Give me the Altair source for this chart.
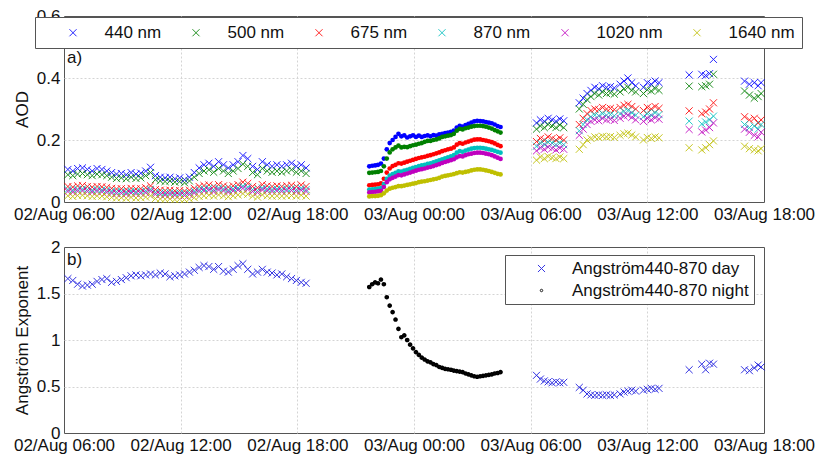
import altair as alt
import pandas as pd

FONT = "Liberation Sans"
WAVELENGTHS = ["440 nm", "500 nm", "675 nm", "870 nm", "1020 nm", "1640 nm"]
COLORS = ["#0000ff", "#008000", "#ff0000", "#00bfbf", "#bf00bf", "#bfbf00"]
XPATH = "M-1,-1L1,1M-1,1L1,-1"

# hours since 02/Aug 00:00
T_DAY = [6.2, 6.45, 6.7, 6.95, 7.2, 7.45, 7.7, 7.95, 8.2, 8.45, 8.7, 8.95, 9.2, 9.45, 9.7, 9.95,
         10.2, 10.45, 10.7, 10.95, 11.2, 11.45, 11.7, 11.95, 12.2, 12.45, 12.7, 12.95, 13.2, 13.45,
         13.7, 13.95, 14.2, 14.45, 14.7, 14.95, 15.2, 15.45, 15.7, 15.95, 16.2, 16.45, 16.7, 16.95,
         17.2, 17.45, 17.7, 17.95, 18.2, 18.45,
         30.3, 30.5, 30.7, 30.9, 31.1, 31.3, 31.5, 31.7,
         32.5, 32.7, 32.9, 33.1, 33.3, 33.5, 33.7, 33.9, 34.1, 34.3,
         34.6, 34.8, 35.0, 35.2, 35.4, 35.8, 36.0, 36.2, 36.4, 36.6,
         38.15, 38.8, 39.0, 39.2, 39.4, 41.0, 41.25, 41.5, 41.7, 41.85]

AOD440_DAY = [0.105, 0.10, 0.108, 0.11, 0.105, 0.10, 0.108, 0.105, 0.10, 0.095, 0.09, 0.092, 0.088, 0.095, 0.09, 0.093,
              0.10, 0.112, 0.085, 0.08, 0.078, 0.08, 0.075, 0.078, 0.072, 0.08, 0.095, 0.11, 0.12, 0.125,
              0.115, 0.13, 0.12, 0.11, 0.12, 0.13, 0.15, 0.14, 0.115, 0.105, 0.13, 0.12, 0.115, 0.12,
              0.115, 0.12, 0.125, 0.115, 0.12, 0.11,
              0.255, 0.265, 0.26, 0.27, 0.265, 0.26, 0.268, 0.262,
              0.32, 0.335, 0.35, 0.36, 0.37, 0.365, 0.375, 0.37, 0.372, 0.368,
              0.38, 0.39, 0.40, 0.385, 0.375, 0.37, 0.385, 0.38, 0.39, 0.385,
              0.41, 0.412, 0.408, 0.414, 0.46, 0.39, 0.38, 0.385, 0.375, 0.385]
AOD500_DAY = [0.088, 0.085, 0.09, 0.092, 0.088, 0.085, 0.09, 0.088, 0.085, 0.08, 0.076, 0.078, 0.075, 0.08, 0.076, 0.078,
              0.085, 0.095, 0.072, 0.068, 0.066, 0.068, 0.064, 0.066, 0.062, 0.068, 0.08, 0.092, 0.10, 0.104,
              0.096, 0.108, 0.10, 0.092, 0.10, 0.108, 0.122, 0.115, 0.095, 0.088, 0.108, 0.10, 0.096, 0.10,
              0.096, 0.10, 0.104, 0.096, 0.10, 0.092,
              0.235, 0.245, 0.24, 0.25, 0.245, 0.24, 0.248, 0.24,
              0.30, 0.315, 0.33, 0.34, 0.35, 0.345, 0.355, 0.35, 0.352, 0.348,
              0.355, 0.365, 0.37, 0.36, 0.355, 0.35, 0.362, 0.358, 0.366, 0.36,
              0.374, 0.372, 0.375, 0.38, 0.412, 0.358, 0.345, 0.335, 0.34, 0.35]
AOD675_DAY = [0.05, 0.048, 0.052, 0.053, 0.05, 0.048, 0.05, 0.049, 0.047, 0.044, 0.042, 0.043, 0.041, 0.044, 0.042, 0.043,
              0.046, 0.052, 0.04, 0.038, 0.037, 0.038, 0.036, 0.037, 0.035, 0.038, 0.044, 0.05, 0.053, 0.055,
              0.05, 0.056, 0.052, 0.048, 0.052, 0.056, 0.064, 0.06, 0.05, 0.046, 0.056, 0.052, 0.05, 0.052,
              0.05, 0.052, 0.054, 0.05, 0.055, 0.05,
              0.195, 0.205, 0.20, 0.21, 0.205, 0.20, 0.207, 0.20,
              0.25, 0.27, 0.285, 0.295, 0.30, 0.298, 0.305, 0.30, 0.302, 0.298,
              0.305, 0.312, 0.315, 0.308, 0.30, 0.295, 0.305, 0.30, 0.308, 0.302,
              0.294, 0.285, 0.29, 0.30, 0.32, 0.275, 0.265, 0.27, 0.255, 0.265]
AOD870_DAY = [0.04, 0.038, 0.041, 0.042, 0.04, 0.038, 0.04, 0.039, 0.037, 0.035, 0.033, 0.034, 0.032, 0.035, 0.033, 0.034,
              0.036, 0.041, 0.031, 0.03, 0.029, 0.03, 0.028, 0.029, 0.027, 0.03, 0.035, 0.04, 0.042, 0.044,
              0.04, 0.045, 0.042, 0.038, 0.042, 0.045, 0.051, 0.048, 0.04, 0.037, 0.045, 0.042, 0.04, 0.042,
              0.04, 0.042, 0.043, 0.04, 0.044, 0.04,
              0.18, 0.19, 0.186, 0.193, 0.19, 0.185, 0.19, 0.185,
              0.23, 0.25, 0.265, 0.275, 0.28, 0.278, 0.285, 0.28, 0.282, 0.278,
              0.285, 0.292, 0.295, 0.288, 0.28, 0.275, 0.285, 0.28, 0.288, 0.282,
              0.261, 0.252, 0.258, 0.265, 0.277, 0.25, 0.24, 0.245, 0.235, 0.25]
AOD1020_DAY = [0.034, 0.032, 0.035, 0.036, 0.034, 0.032, 0.034, 0.033, 0.031, 0.029, 0.027, 0.028, 0.026, 0.029, 0.027, 0.028,
               0.03, 0.035, 0.025, 0.024, 0.023, 0.024, 0.022, 0.023, 0.021, 0.024, 0.029, 0.034, 0.036, 0.038,
               0.034, 0.039, 0.036, 0.032, 0.036, 0.039, 0.044, 0.041, 0.034, 0.031, 0.039, 0.036, 0.034, 0.036,
               0.034, 0.036, 0.037, 0.034, 0.038, 0.034,
               0.165, 0.175, 0.17, 0.177, 0.173, 0.168, 0.174, 0.17,
               0.215, 0.235, 0.25, 0.26, 0.265, 0.262, 0.27, 0.265, 0.267, 0.263,
               0.27, 0.277, 0.28, 0.273, 0.265, 0.26, 0.27, 0.265, 0.272, 0.267,
               0.234, 0.226, 0.232, 0.24, 0.255, 0.235, 0.225, 0.215, 0.21, 0.225]
AOD1640_DAY = [0.02, 0.018, 0.021, 0.022, 0.02, 0.018, 0.02, 0.019, 0.017, 0.015, 0.013, 0.014, 0.012, 0.015, 0.013, 0.014,
               0.016, 0.02, 0.011, 0.01, 0.009, 0.01, 0.008, 0.009, 0.008, 0.01, 0.014, 0.018, 0.02, 0.022,
               0.019, 0.023, 0.02, 0.017, 0.02, 0.023, 0.027, 0.025, 0.019, 0.016, 0.023, 0.02, 0.019, 0.02,
               0.019, 0.02, 0.021, 0.019, 0.022, 0.019,
               0.135, 0.145, 0.14, 0.147, 0.143, 0.14, 0.145, 0.14,
               0.17, 0.185, 0.20, 0.205, 0.21, 0.208, 0.212, 0.21, 0.211, 0.208,
               0.215, 0.22, 0.222, 0.216, 0.21, 0.20, 0.208, 0.205, 0.21, 0.207,
               0.175, 0.168, 0.175, 0.185, 0.197, 0.18, 0.172, 0.168, 0.165, 0.172]

T_NIGHT = [21.7, 21.85, 22.0, 22.15, 22.3, 22.45, 22.6, 22.75, 22.9, 23.05, 23.2, 23.35, 23.5, 23.65,
           23.8, 23.95, 24.1, 24.25, 24.4, 24.55, 24.7, 24.85, 25.0, 25.15, 25.3, 25.45, 25.6, 25.75,
           25.9, 26.05, 26.2, 26.35, 26.5, 26.65, 26.8, 26.95, 27.1, 27.25, 27.4, 27.55, 27.7, 27.85,
           28.0, 28.15, 28.3, 28.45]
AOD440_NIGHT = [0.115, 0.117, 0.118, 0.12, 0.124, 0.14, 0.17, 0.19, 0.20, 0.21, 0.22, 0.212, 0.215, 0.208,
                0.212, 0.215, 0.21, 0.214, 0.21, 0.213, 0.215, 0.212, 0.216, 0.214, 0.218, 0.22, 0.222, 0.224,
                0.226, 0.23, 0.24, 0.246, 0.243, 0.248, 0.252, 0.256, 0.26, 0.262, 0.261, 0.26, 0.258, 0.256,
                0.254, 0.25, 0.245, 0.242]
AOD500_NIGHT = [0.094, 0.095, 0.096, 0.097, 0.10, 0.115, 0.14, 0.16, 0.17, 0.176, 0.182, 0.176, 0.178, 0.177,
                0.18, 0.183, 0.185, 0.188, 0.19, 0.194, 0.197, 0.197, 0.20, 0.202, 0.205, 0.21, 0.212, 0.214,
                0.216, 0.22, 0.23, 0.236, 0.234, 0.238, 0.24, 0.243, 0.245, 0.246, 0.246, 0.245, 0.243, 0.24,
                0.237, 0.232, 0.228, 0.224]
AOD675_NIGHT = [0.054, 0.055, 0.056, 0.057, 0.06, 0.075, 0.095, 0.108, 0.116, 0.12, 0.125, 0.124, 0.127, 0.13,
                0.133, 0.136, 0.139, 0.142, 0.144, 0.146, 0.149, 0.151, 0.154, 0.157, 0.16, 0.164, 0.167, 0.17,
                0.172, 0.176, 0.185, 0.19, 0.188, 0.192, 0.195, 0.198, 0.201, 0.202, 0.202, 0.20, 0.198, 0.196,
                0.193, 0.189, 0.184, 0.18]
AOD870_NIGHT = [0.04, 0.041, 0.042, 0.043, 0.045, 0.058, 0.075, 0.085, 0.09, 0.094, 0.099, 0.098, 0.101, 0.104,
                0.107, 0.11, 0.113, 0.116, 0.118, 0.12, 0.123, 0.125, 0.128, 0.131, 0.134, 0.138, 0.141, 0.144,
                0.147, 0.151, 0.159, 0.164, 0.162, 0.166, 0.169, 0.172, 0.174, 0.175, 0.175, 0.174, 0.172, 0.17,
                0.168, 0.165, 0.162, 0.159]
AOD1020_NIGHT = [0.031, 0.032, 0.033, 0.034, 0.036, 0.048, 0.064, 0.073, 0.078, 0.082, 0.087, 0.086, 0.089, 0.092,
                 0.095, 0.098, 0.101, 0.104, 0.106, 0.108, 0.111, 0.113, 0.116, 0.119, 0.122, 0.126, 0.129, 0.132,
                 0.135, 0.138, 0.144, 0.148, 0.147, 0.151, 0.154, 0.156, 0.158, 0.159, 0.159, 0.158, 0.156, 0.154,
                 0.151, 0.147, 0.143, 0.139]
AOD1640_NIGHT = [0.018, 0.019, 0.019, 0.02, 0.022, 0.028, 0.037, 0.043, 0.046, 0.048, 0.051, 0.051, 0.053, 0.055,
                 0.057, 0.059, 0.061, 0.064, 0.066, 0.067, 0.069, 0.071, 0.073, 0.075, 0.078, 0.082, 0.084, 0.086,
                 0.088, 0.09, 0.093, 0.096, 0.095, 0.097, 0.099, 0.102, 0.104, 0.105, 0.105, 0.104, 0.102, 0.10,
                 0.097, 0.094, 0.091, 0.089]

AE_DAY = [1.66, 1.64, 1.60, 1.58, 1.59, 1.60, 1.63, 1.65, 1.66, 1.62, 1.63, 1.65, 1.67, 1.69, 1.70, 1.69,
          1.70, 1.71, 1.70, 1.72, 1.71, 1.68, 1.69, 1.70, 1.71, 1.73, 1.75, 1.78, 1.80, 1.79,
          1.76, 1.79, 1.74, 1.73, 1.76, 1.80, 1.82, 1.76, 1.71, 1.73, 1.76, 1.73, 1.72, 1.70,
          1.71, 1.68, 1.66, 1.64, 1.62, 1.61,
          0.62, 0.58, 0.56, 0.55, 0.54, 0.55, 0.54, 0.545,
          0.49, 0.46, 0.42, 0.41, 0.405, 0.41, 0.405, 0.41, 0.405, 0.41,
          0.42, 0.44, 0.45, 0.46, 0.45, 0.46, 0.47, 0.48, 0.47, 0.48,
          0.68, 0.74, 0.68, 0.75, 0.74, 0.68, 0.67, 0.70, 0.73, 0.71]
AE_NIGHT = [1.57, 1.60, 1.62, 1.61, 1.65, 1.60, 1.46, 1.37, 1.30, 1.22, 1.12, 1.03, 1.05, 1.00,
            0.95, 0.91, 0.87, 0.84, 0.81, 0.79, 0.77, 0.76, 0.74, 0.73, 0.71, 0.70, 0.69, 0.685,
            0.68, 0.67, 0.665, 0.66, 0.655, 0.64, 0.63, 0.62, 0.61, 0.605, 0.61, 0.615, 0.62, 0.625,
            0.63, 0.64, 0.645, 0.655]

AE_SERIES = ["Angström440-870 day", "Angström440-870 night"]
AE_COLORS = ["#2020e0", "#000000"]

day_series = [AOD440_DAY, AOD500_DAY, AOD675_DAY, AOD870_DAY, AOD1020_DAY, AOD1640_DAY]
night_series = [AOD440_NIGHT, AOD500_NIGHT, AOD675_NIGHT, AOD870_NIGHT, AOD1020_NIGHT, AOD1640_NIGHT]

day_rows, night_rows = [], []
for k, wl in enumerate(WAVELENGTHS):
    for t, v in zip(T_DAY, day_series[k]):
        day_rows.append({"t": t, "aod": v, "wl": wl, "order": k})
    for t, v in zip(T_NIGHT, night_series[k]):
        night_rows.append({"t": t, "aod": v, "wl": wl, "order": k})
df_day = pd.DataFrame(day_rows)
df_night = pd.DataFrame(night_rows)

df_ae_day = pd.DataFrame({"t": T_DAY, "ae": AE_DAY, "series": AE_SERIES[0]})
df_ae_night = pd.DataFrame({"t": T_NIGHT, "ae": AE_NIGHT, "series": AE_SERIES[1]})

LABEL_EXPR = ("(datum.value < 24 ? '02/Aug ' : '03/Aug ') + "
              "((datum.value % 24) < 10 ? '0' : '') + (datum.value % 24) + ':00'")

def edge_hidden(lo, hi):
    return {"condition": {"test": f"datum.value <= {lo} || datum.value >= {hi}", "value": 0}, "value": 1}

def x_enc():
    return alt.X("t:Q", title=None,
                 scale=alt.Scale(domain=[6, 42], nice=False, zero=False),
                 axis=alt.Axis(values=[6, 12, 18, 24, 30, 36, 42], labelExpr=LABEL_EXPR,
                               labelFlush=False, labelOverlap=False, labelPadding=4,
                               gridOpacity=edge_hidden(6, 42)))

W, H = 700, 186

leg_a = alt.Legend(orient="none", legendX=-29, legendY=1, direction="horizontal", title=None,
                   symbolType=XPATH, symbolSize=50, symbolStrokeWidth=1,
                   symbolOffset=22.5, labelOffset=23, columnPadding=3, padding=7, labelLimit=300,
                   strokeColor="#555555", fillColor="white", labelFontSize=17,
                   labelFont=FONT, labelColor="#111111")
color_a = alt.Color("wl:N", scale=alt.Scale(domain=WAVELENGTHS, range=COLORS), legend=leg_a)

y_a = alt.Y("aod:Q", title="AOD", scale=alt.Scale(domain=[0, 0.6], nice=False),
            axis=alt.Axis(values=[0, 0.2, 0.4, 0.6], format="~g", gridOpacity=edge_hidden(0, 0.59)))

day_a = alt.Chart(df_day).mark_point(shape=XPATH, filled=False, size=50, strokeWidth=1, opacity=0.85).encode(
    x=x_enc(), y=y_a, color=color_a, order="order:Q")
night_a = alt.Chart(df_night).mark_circle(size=22, opacity=1).encode(
    x=x_enc(), y=y_a, color=alt.Color("wl:N", scale=alt.Scale(domain=WAVELENGTHS, range=COLORS), legend=None),
    order="order:Q")
lab_a = alt.Chart(pd.DataFrame({"s": ["a)"]})).mark_text(
    align="left", baseline="top", fontSize=17, font=FONT, color="#111111").encode(
    x=alt.value(3), y=alt.value(34), text="s:N")

panel_a = alt.layer(day_a, night_a, lab_a).properties(width=W, height=H)

y_b = alt.Y("ae:Q", title="Angström Exponent", scale=alt.Scale(domain=[0, 2], nice=False),
            axis=alt.Axis(values=[0, 0.5, 1, 1.5, 2], format="~g", gridOpacity=edge_hidden(0, 2)))
leg_b = alt.Legend(orient="none", legendX=441, legendY=8, direction="vertical", title=None,
                   symbolStrokeWidth=1, symbolOffset=23, labelOffset=22, padding=5, labelLimit=400,
                   rowPadding=4, strokeColor="#555555", fillColor="white", labelFontSize=17,
                   labelFont=FONT, labelColor="#111111")
sc_color_b = alt.Scale(domain=AE_SERIES, range=AE_COLORS)
sc_shape_b = alt.Scale(domain=AE_SERIES, range=[XPATH, "circle"])
sc_size_b = alt.Scale(domain=AE_SERIES, range=[50, 6])

day_b = alt.Chart(df_ae_day).mark_point(filled=False, strokeWidth=1, opacity=0.9).encode(
    x=x_enc(), y=y_b,
    color=alt.Color("series:N", scale=sc_color_b, legend=leg_b),
    shape=alt.Shape("series:N", scale=sc_shape_b, legend=leg_b),
    size=alt.Size("series:N", scale=sc_size_b, legend=leg_b))
night_b = alt.Chart(df_ae_night).mark_point(filled=False, strokeWidth=2.2, opacity=1).encode(
    x=x_enc(), y=y_b,
    color=alt.Color("series:N", scale=sc_color_b, legend=None),
    shape=alt.Shape("series:N", scale=sc_shape_b, legend=None),
    size=alt.Size("series:N", scale=sc_size_b, legend=None))
lab_b = alt.Chart(pd.DataFrame({"s": ["b)"]})).mark_text(
    align="left", baseline="top", fontSize=17, font=FONT, color="#111111").encode(
    x=alt.value(3), y=alt.value(5), text="s:N")
panel_b = alt.layer(day_b, night_b, lab_b).properties(width=W, height=H)

chart = alt.vconcat(panel_a, panel_b, spacing=14).resolve_scale(
    color="independent", shape="independent", size="independent"
).resolve_legend(
    color="independent", shape="independent", size="independent"
).properties(
    padding={"left": 12, "top": 6, "right": 1, "bottom": 2}
).configure(font=FONT).configure_view(
    stroke="#555555", strokeWidth=1
).configure_axis(
    labelFont=FONT, titleFont=FONT, labelFontSize=17, titleFontSize=17, titleFontWeight="normal",
    labelColor="#111111", titleColor="#111111", grid=True, gridColor="#d4d4d4", gridDash=[2, 2],
    ticks=False, domain=False, labelPadding=4, titlePadding=5
)

chart.save("out.html", embed_options={"renderer": "svg", "actions": False})
